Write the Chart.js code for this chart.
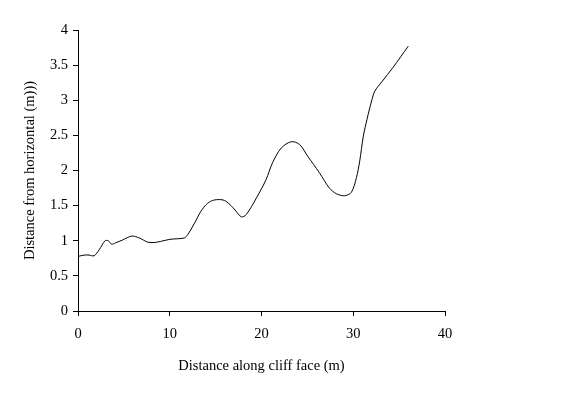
<!DOCTYPE html>
<html>
<head>
<meta charset="utf-8">
<script src="https://cdn.jsdelivr.net/npm/chart.js@4"></script>
<style>
  body { margin: 0; background: #fff; }
  #chart { display: block; }
</style>
</head>
<body>
<canvas id="chart" width="562" height="394"></canvas>
<script>
const distAlong = [0, 0.65, 1.2, 1.75, 2.3, 2.95, 3.3, 3.68, 4.1, 4.85, 5.87, 6.67, 7.6, 8.3, 9.0, 10, 11.6, 11.95, 12.7, 13.4, 14.1, 14.85, 15.95, 16.9, 17.8, 18.35, 19.45, 20.5, 21.2, 22.15, 23.25, 24.15, 25.05, 26.3, 27.4, 28.15, 29.05, 29.8, 30.35, 30.7, 31.1, 31.5, 32.0, 32.35, 33.1, 34.35, 36];
const distHoriz = [0.776, 0.796, 0.796, 0.786, 0.87, 1.0, 1.0, 0.95, 0.97, 1.01, 1.067, 1.04, 0.98, 0.975, 0.99, 1.02, 1.04, 1.085, 1.25, 1.42, 1.53, 1.58, 1.575, 1.47, 1.34, 1.375, 1.61, 1.87, 2.11, 2.32, 2.41, 2.37, 2.2, 1.97, 1.75, 1.67, 1.64, 1.69, 1.9, 2.13, 2.49, 2.73, 2.99, 3.13, 3.26, 3.47, 3.77];
const xTitle = "Distance along cliff face (m)";
const yTitle = "Distance from horizontal (m)))";

function mainEvent() {
  const font = { family: "'Liberation Serif', 'Times New Roman', serif", size: 14.5 };
  const pts = distAlong.map((x, i) => ({ x: x, y: distHoriz[i] }));

  new Chart(document.getElementById("chart"), {
    type: "scatter",
    data: {
      datasets: [{
        data: pts,
        showLine: true,
        borderColor: "#000",
        borderWidth: 1,
        pointRadius: 0,
        tension: 0.3,
      }],
    },
    options: {
      responsive: false,
      animation: false,
      devicePixelRatio: 1,
      layout: { padding: { top: 30, right: 117, left: 0, bottom: 0 } },
      plugins: { legend: { display: false }, tooltip: { enabled: false } },
      scales: {
        x: {
          type: "linear",
          min: 0,
          max: 40,
          ticks: { stepSize: 10, color: "#000", font: font, padding: 9, maxRotation: 0 },
          grid: { drawOnChartArea: false, color: "#000", tickLength: 5 },
          border: { color: "#000", width: 1 },
          title: { display: true, text: xTitle, color: "#000", font: font, padding: { top: 0, bottom: 19 } },
          afterFit: (s) => { s.height = 83; },
        },
        y: {
          min: 0,
          max: 4,
          ticks: { stepSize: 0.5, color: "#000", font: font, padding: 5, callback: (v) => String(v) },
          grid: { drawOnChartArea: false, color: "#000", tickLength: 5 },
          border: { color: "#000", width: 1 },
          title: { display: true, text: yTitle, color: "#000", font: font, padding: { top: 21, bottom: 0 } },
          afterFit: (s) => { s.width = 78; },
        },
      },
    },
  });
}
document.addEventListener("DOMContentLoaded", () => mainEvent());
</script>
</body>
</html>
